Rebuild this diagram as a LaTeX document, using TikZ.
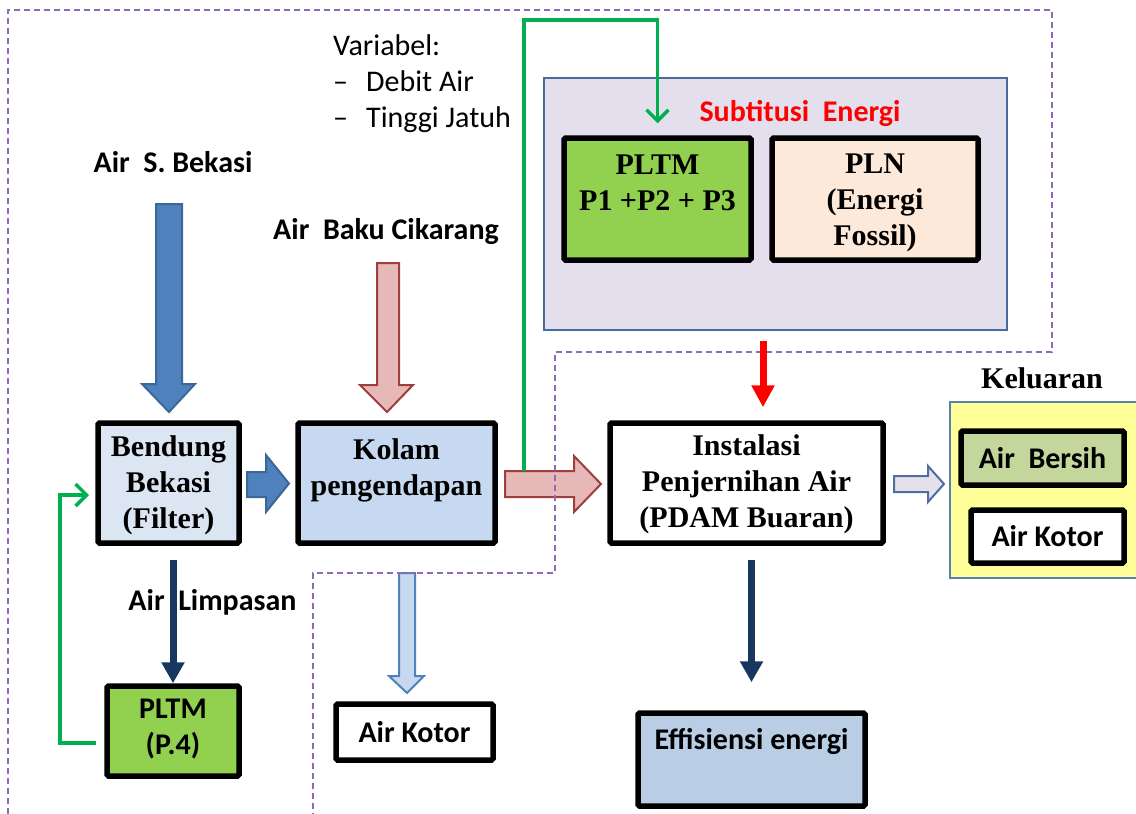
\documentclass[tikz,border=0pt]{standalone}
\usepackage{fontspec}
\setmainfont{Carlito}
\newfontfamily\tnr{Liberation Serif}
\usetikzlibrary{arrows.meta}
\definecolor{bluearr}{HTML}{4F81BD}
\definecolor{bluearrd}{HTML}{3B6897}
\definecolor{pinkarr}{HTML}{E6B9B8}
\definecolor{pinkarrd}{HTML}{9C3F3D}
\definecolor{bendfill}{HTML}{DCE6F2}
\definecolor{kolamfill}{HTML}{C6D9F1}
\definecolor{pltmgreen}{HTML}{92D050}
\definecolor{plnfill}{HTML}{FDE9D9}
\definecolor{substfill}{HTML}{E4DFEC}
\definecolor{substdraw}{HTML}{4A6A9B}
\definecolor{kelfill}{HTML}{FFFF99}
\definecolor{keldraw}{HTML}{5B7FAF}
\definecolor{bersihfill}{HTML}{C3D69B}
\definecolor{efffill}{HTML}{B9CDE5}
\definecolor{navy}{HTML}{17375E}
\definecolor{gline}{HTML}{00B050}
\definecolor{dashpurple}{HTML}{8F6BB5}
\definecolor{lightarr}{HTML}{E6E0EC}
\definecolor{lightarrd}{HTML}{4F6FA0}
\tikzset{
  box/.style={draw=black, line width=5.5pt, inner sep=0pt, align=center, rounded corners=1.5pt},
  sanslab/.style={font=\fontsize{30}{36}\selectfont\bfseries, align=center, inner sep=0pt},
  seriflab/.style={font=\fontsize{30}{36}\selectfont\tnr\bfseries, align=center, inner sep=0pt},
  varlab/.style={font=\fontsize{30}{36}\selectfont, inner sep=0pt, anchor=base west},
  dashline/.style={draw=dashpurple, line width=1.6pt, dash pattern=on 6pt off 4pt},
  greenline/.style={draw=gline, line width=3.5pt, -{Straight Barb[length=11pt,width=22pt,line width=3.5pt]}},
  navyarrow/.style={draw=navy, line width=7pt, -{Triangle[length=21pt,width=22pt]}},
  redarrow/.style={draw=red, line width=7pt, -{Triangle[length=22pt,width=22pt]}},
  blockblue/.style={fill=bluearr, draw=bluearrd, line width=2pt, line join=miter},
  blockpink/.style={fill=pinkarr, draw=pinkarrd, line width=2pt, line join=miter},
  blocklight/.style={fill=lightarr, draw=lightarrd, line width=2pt, line join=miter},
  blocklblue/.style={fill=kolamfill, draw=bluearr, line width=2pt, line join=miter},
}
\begin{document}
\begin{tikzpicture}[x=1pt,y=-1pt]
\useasboundingbox (0,0) rectangle (1136,814);
\clip (0,0) rectangle (1136,814);
\fill[white] (0,0) rectangle (1136,814);

% Variables text
\node[varlab] (v1) at (333,55) {Variabel:};
\node[varlab] (v2) at (333,91) {\makebox[33pt][l]{–}Debit Air};
\node[varlab] (v3) at (333,127) {\makebox[33pt][l]{–}Tinggi Jatuh};

% input labels
\node[sanslab] (lbek) at (173,162) {Air~~S. Bekasi};
\node[sanslab] (lcik) at (386,232) {Air~~Baku Cikarang};

% substitution box
\node[draw=substdraw, fill=substfill, line width=2pt, minimum width=463pt, minimum height=252pt, inner sep=0pt] (subst) at (775.5,204) {};
\node[sanslab, text=red] (lsub) at (800,113) {Subtitusi~~Energi};
\node[box, fill=pltmgreen, minimum width=187pt, minimum height=122pt] (pltm) at (657.5,199) {};
\node[seriflab] (pltmt) at (657.5,183) {PLTM\\P1 +P2 + P3};
\node[box, fill=plnfill, minimum width=206pt, minimum height=122pt] (pln) at (875,199) {};
\node[seriflab] (plnt) at (875,203) {PLN\\(Energi\\Fossil)};

% main boxes
\node[box, fill=bendfill, minimum width=141pt, minimum height=120pt] (bend) at (168.5,483) {};
\node[seriflab] (bendt) at (168.5,485) {Bendung\\Bekasi\\(Filter)};
\node[box, fill=kolamfill, minimum width=197pt, minimum height=120pt] (kolam) at (396.5,483) {};
\node[seriflab] (kolamt) at (396.5,470) {Kolam\\pengendapan};
\node[box, fill=white, minimum width=273pt, minimum height=120pt] (inst) at (746.5,483) {};
\node[seriflab] (instt) at (746.5,484) {Instalasi\\Penjernihan Air\\(PDAM Buaran)};

% Keluaran
\node[seriflab] (lkel) at (1042,378) {Keluaran};
\node[draw=keldraw, fill=kelfill, line width=2pt, minimum width=200pt, minimum height=176pt, inner sep=0pt] (kel) at (1050,490) {};
\node[box, fill=bersihfill, minimum width=163pt, minimum height=54pt, font=\fontsize{30}{36}\selectfont\bfseries] (bersih) at (1042.5,458) {Air~~Bersih};
\node[box, fill=white, minimum width=153pt, minimum height=53pt, font=\fontsize{30}{36}\selectfont\bfseries] (kotor2) at (1047.5,536.5) {Air Kotor};

% bottom boxes
\node[box, fill=pltmgreen, minimum width=132pt, minimum height=90pt] (p4) at (173,731) {};
\node[sanslab] (p4t) at (173,729) {PLTM\\(P.4)};
\node[box, fill=white, minimum width=157pt, minimum height=56pt, font=\fontsize{30}{36}\selectfont\bfseries] (kotor1) at (414.5,732) {Air Kotor};
\node[box, fill=efffill, minimum width=227pt, minimum height=93pt] (eff) at (751.5,759.5) {};
\node[sanslab] (efft) at (751.5,741) {Effisiensi energi};

% block arrows
\draw[blockblue] (156,204) -- (182,204) -- (182,384) -- (195,384) -- (169,412) -- (142,384) -- (156,384) -- cycle;
\draw[blockpink] (377,263) -- (399,263) -- (399,385) -- (413,385) -- (387,412) -- (360,385) -- (377,385) -- cycle;
\draw[blockblue] (247,472) -- (266,472) -- (266,455) -- (289,483.5) -- (266,512) -- (266,497) -- (247,497) -- cycle;
\draw[blockpink] (505,471) -- (574,471) -- (574,456) -- (601,484) -- (574,512) -- (574,497) -- (505,497) -- cycle;
\draw[blocklight] (894,476) -- (928,476) -- (928,466) -- (944,484) -- (928,502) -- (928,492) -- (894,492) -- cycle;
\draw[blocklblue] (399,573) -- (415,573) -- (415,676) -- (424,676) -- (407,693) -- (389,676) -- (399,676) -- cycle;

% dashed boundary
\draw[dashline] (8,814) -- (8,10) -- (1052,10) -- (1052,352) -- (555,352) -- (555,573) -- (313,573) -- (313,814);

% air limpasan
\draw[navyarrow] ([yshift=-14pt]bend.south -| p4.north) -- (p4.north);
\node[sanslab] (llimp) at (212.5,602) {Air~~Limpasan};
\draw[navyarrow, shorten >=28pt] ([yshift=-14pt]inst.south -| eff.north) -- (eff.north);
\draw[redarrow, shorten >=13pt] ([yshift=-10pt]subst.south -| 763,0) -- (inst.north -| 763,0);

% green lines
\coordinate (gin) at (89,495);
\draw[greenline] ([xshift=-8pt,yshift=-12pt]p4.west) -- (60,743) |- (gin);
\coordinate (gs) at (524,471);
\draw[greenline] (gs) -- (524,20) -| ([yshift=12pt]pltm.north);
\end{tikzpicture}
\end{document}
